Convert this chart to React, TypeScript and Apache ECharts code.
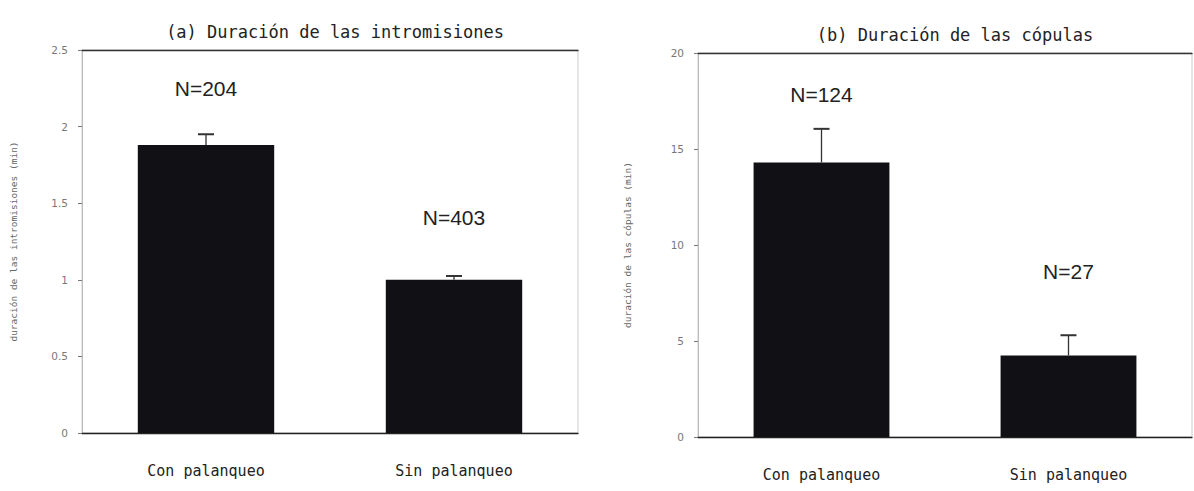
import React, { useEffect, useRef } from "react";
import * as echarts from "echarts";

const categories = ["Con palanqueo", "Sin palanqueo"];
const introMeans = [1.88, 1.0];
const introErr = [0.07, 0.025];
const introN = ["N=204", "N=403"];
const copMeans = [14.3, 4.25];
const copErr = [1.75, 1.05];
const copN = ["N=124", "N=27"];
const titles = ["(a) Duración de las intromisiones", "(b) Duración de las cópulas"];
const yNames = ["duración de las intromisiones (min)", "duración de las cópulas (min)"];
const labelGaps = [[46, 52], [57, 73]];

const mono = "'DejaVu Sans Mono', 'Liberation Mono', monospace";

function errorSeries(means: number[], errs: number[], idx: number) {
  return {
    type: "custom",
    xAxisIndex: idx,
    yAxisIndex: idx,
    z: 5,
    data: means.map((m, i) => [i, m, m + errs[i]]),
    renderItem: (params: any, api: any) => {
      const lo = api.coord([api.value(0), api.value(1)]);
      const hi = api.coord([api.value(0), api.value(2)]);
      const half = 8;
      const style = { stroke: "#333", lineWidth: 1.3 };
      return {
        type: "group",
        children: [
          { type: "line", shape: { x1: lo[0], y1: lo[1], x2: hi[0], y2: hi[1] }, style },
          { type: "line", shape: { x1: hi[0] - half, y1: hi[1], x2: hi[0] + half, y2: hi[1] }, style: { stroke: "#333", lineWidth: 2 } },
        ],
      };
    },
  };
}

function barSeries(means: number[], ns: string[], gaps: number[], idx: number) {
  return {
    type: "bar",
    xAxisIndex: idx,
    yAxisIndex: idx,
    barWidth: "55%",
    itemStyle: { color: "#111015" },
    data: means.map((m, i) => ({
      value: m,
      label: {
        show: true,
        position: "top",
        distance: gaps[i],
        formatter: ns[i],
        fontFamily: "'Liberation Sans', Arial, sans-serif",
        fontSize: 21,
        color: "#222",
      },
    })),
  };
}

export default function App() {
  const ref = useRef<HTMLDivElement>(null);
  useEffect(() => {
    if (!ref.current) return;
    const chart = echarts.init(ref.current, null, { renderer: "svg" });
    const yAxisCommon = (idx: number, max: number, interval: number, gap: number) => ({
      type: "value",
      gridIndex: idx,
      min: 0,
      max,
      interval,
      name: yNames[idx],
      nameLocation: "middle",
      nameGap: gap,
      nameTextStyle: { fontSize: 9.5, color: "#666", fontFamily: mono },
      axisLine: { show: true, lineStyle: { color: "#bbb" } },
      axisTick: { show: true, length: 4, lineStyle: { color: "#777" } },
      axisLabel: { fontSize: 10.5, color: "#777", margin: 14, fontFamily: "'DejaVu Sans', sans-serif" },
      splitLine: { show: false },
    });
    const xAxisCommon = (idx: number) => ({
      type: "category",
      gridIndex: idx,
      data: categories,
      axisLine: { show: true, lineStyle: { color: "#222", width: 1.3 } },
      axisTick: { show: false },
      axisLabel: { fontSize: 15, color: "#222", margin: 30, fontFamily: mono },
    });
    const topAxis = (idx: number) => ({
      type: "category",
      gridIndex: idx,
      position: "top",
      data: categories,
      axisLine: { show: true, lineStyle: { color: "#333", width: 1.3 } },
      axisTick: { show: false },
      axisLabel: { show: false },
    });
    chart.setOption({
      animation: false,
      backgroundColor: "#fff",
      title: [
        { text: titles[0], left: 330, top: 18, textAlign: "center", textStyle: { fontFamily: mono, fontSize: 17, fontWeight: "normal", color: "#222" } },
        { text: titles[1], left: 950, top: 21, textAlign: "center", textStyle: { fontFamily: mono, fontSize: 17, fontWeight: "normal", color: "#222" } },
      ],
      grid: [
        { left: 82, right: 616, top: 50, bottom: 58, show: true, borderColor: "#ccc", borderWidth: 1 },
        { left: 698, right: 2, top: 53, bottom: 54, show: true, borderColor: "#ccc", borderWidth: 1 },
      ],
      xAxis: [xAxisCommon(0), xAxisCommon(1), { ...topAxis(0) }, { ...topAxis(1) }],
      yAxis: [yAxisCommon(0, 2.5, 0.5, 64), yAxisCommon(1, 20, 5, 66)],
      series: [
        barSeries(introMeans, introN, labelGaps[0], 0),
        errorSeries(introMeans, introErr, 0),
        barSeries(copMeans, copN, labelGaps[1], 1),
        errorSeries(copMeans, copErr, 1),
      ],
    });
    return () => chart.dispose();
  }, []);
  return <div ref={ref} style={{ width: 1194, height: 491, position: "absolute", left: 0, top: 0 }} />;
}
